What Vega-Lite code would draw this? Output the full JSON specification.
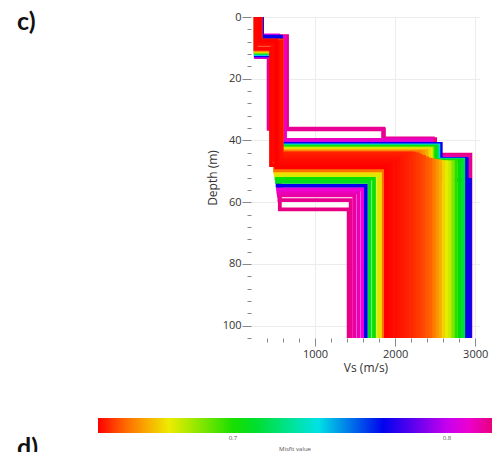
{
  "$schema": "https://vega.github.io/schema/vega-lite/v6.json",
  "width": 229,
  "height": 321,
  "autosize": {"type": "none"},
  "padding": {"left": 251, "top": 17, "right": 22, "bottom": 114},
  "background": "white",
  "title": {
    "text": "c)",
    "subtitle": "d)",
    "anchor": "start",
    "frame": "group",
    "orient": "top",
    "offset": 0,
    "dx": -234,
    "dy": 450,
    "font": "Lato",
    "fontSize": 25,
    "fontWeight": "bold",
    "color": "#111111",
    "subtitleFont": "Lato",
    "subtitleFontSize": 25,
    "subtitleFontWeight": "bold",
    "subtitleColor": "#111111",
    "subtitlePadding": 401
  },
  "config": {
    "view": {"stroke": null},
    "font": "Open Sans"
  },
  "data": {
    "values": [
      {"p":"a01","m":0.821,"d":0,"v":335},{"p":"a01","m":0.821,"d":6.2,"v":650},{"p":"a01","m":0.821,"d":36.4,"v":1860},{"p":"a01","m":0.821,"d":39.6,"v":2500},{"p":"a01","m":0.821,"d":44.6,"v":2940},{"p":"a01","m":0.821,"d":104,"v":2940},
      {"p":"a02","m":0.8205,"d":0,"v":330},{"p":"a02","m":0.8205,"d":6.6,"v":560},{"p":"a02","m":0.8205,"d":62.3,"v":1420},{"p":"a02","m":0.8205,"d":104,"v":1420},
      {"p":"a03","m":0.819,"d":0,"v":325},{"p":"a03","m":0.819,"d":7,"v":555},{"p":"a03","m":0.819,"d":59.3,"v":1445},{"p":"a03","m":0.819,"d":104,"v":1445},
      {"p":"a04","m":0.818,"d":0,"v":265},{"p":"a04","m":0.818,"d":13,"v":420},{"p":"a04","m":0.818,"d":36.2,"v":1850},{"p":"a04","m":0.818,"d":39.3,"v":2470},{"p":"a04","m":0.818,"d":45,"v":2930},{"p":"a04","m":0.818,"d":104,"v":2930},
      {"p":"a05","m":0.816,"d":0,"v":320},{"p":"a05","m":0.816,"d":6.8,"v":548},{"p":"a05","m":0.816,"d":57.8,"v":1490},{"p":"a05","m":0.816,"d":104,"v":1490},
      {"p":"a06","m":0.813,"d":0,"v":330},{"p":"a06","m":0.813,"d":6.3,"v":542},{"p":"a06","m":0.813,"d":56.8,"v":1540},{"p":"a06","m":0.813,"d":104,"v":1540},
      {"p":"a07","m":0.812,"d":0,"v":330},{"p":"a07","m":0.812,"d":6.5,"v":625},{"p":"a07","m":0.812,"d":39.8,"v":2450},{"p":"a07","m":0.812,"d":45.5,"v":2700},{"p":"a07","m":0.812,"d":104,"v":2700},
      {"p":"a08","m":0.809,"d":0,"v":335},{"p":"a08","m":0.809,"d":6,"v":538},{"p":"a08","m":0.809,"d":55.8,"v":1590},{"p":"a08","m":0.809,"d":104,"v":1590},
      {"p":"a09","m":0.802,"d":0,"v":260},{"p":"a09","m":0.802,"d":12.8,"v":570},{"p":"a09","m":0.802,"d":40.7,"v":2430},{"p":"a09","m":0.802,"d":46,"v":2690},{"p":"a09","m":0.802,"d":104,"v":2690},
      {"p":"a10","m":0.7725,"d":0,"v":335},{"p":"a10","m":0.7725,"d":6.4,"v":572},{"p":"a10","m":0.7725,"d":41.1,"v":2570},{"p":"a10","m":0.7725,"d":52.8,"v":2935},{"p":"a10","m":0.7725,"d":104,"v":2935},
      {"p":"a10b","m":0.772,"d":0,"v":332},{"p":"a10b","m":0.772,"d":6.5,"v":575},{"p":"a10b","m":0.772,"d":41.3,"v":2560},{"p":"a10b","m":0.772,"d":46,"v":2895},{"p":"a10b","m":0.772,"d":104,"v":2895},
      {"p":"a11","m":0.771,"d":0,"v":260},{"p":"a11","m":0.771,"d":12.4,"v":532},{"p":"a11","m":0.771,"d":54.6,"v":1635},{"p":"a11","m":0.771,"d":104,"v":1635},
      {"p":"a12","m":0.742,"d":0,"v":260},{"p":"a12","m":0.742,"d":12,"v":565},{"p":"a12","m":0.742,"d":41.6,"v":2540},{"p":"a12","m":0.742,"d":46.2,"v":2850},{"p":"a12","m":0.742,"d":104,"v":2850},
      {"p":"a13","m":0.712,"d":0,"v":300},{"p":"a13","m":0.712,"d":8.5,"v":560},{"p":"a13","m":0.712,"d":41.9,"v":2520},{"p":"a13","m":0.712,"d":46.4,"v":2850},{"p":"a13","m":0.712,"d":104,"v":2850},
      {"p":"a14","m":0.708,"d":0,"v":260},{"p":"a14","m":0.708,"d":11.6,"v":525},{"p":"a14","m":0.708,"d":53.4,"v":1682},{"p":"a14","m":0.708,"d":104,"v":1682},
      {"p":"a15","m":0.705,"d":0,"v":300},{"p":"a15","m":0.705,"d":8.3,"v":560},{"p":"a15","m":0.705,"d":42.1,"v":2500},{"p":"a15","m":0.705,"d":46.6,"v":2805},{"p":"a15","m":0.705,"d":104,"v":2805},
      {"p":"a16","m":0.702,"d":0,"v":300},{"p":"a16","m":0.702,"d":8.6,"v":518},{"p":"a16","m":0.702,"d":52.3,"v":1736},{"p":"a16","m":0.702,"d":104,"v":1736},
      {"p":"a17","m":0.698,"d":0,"v":305},{"p":"a17","m":0.698,"d":8.2,"v":556},{"p":"a17","m":0.698,"d":42.3,"v":2480},{"p":"a17","m":0.698,"d":46.8,"v":2760},{"p":"a17","m":0.698,"d":104,"v":2760},
      {"p":"a18","m":0.686,"d":0,"v":300},{"p":"a18","m":0.686,"d":8.4,"v":552},{"p":"a18","m":0.686,"d":42.6,"v":2460},{"p":"a18","m":0.686,"d":47,"v":2720},{"p":"a18","m":0.686,"d":104,"v":2720},
      {"p":"a18b","m":0.676,"d":0,"v":298},{"p":"a18b","m":0.676,"d":8.3,"v":550},{"p":"a18b","m":0.676,"d":42.8,"v":2450},{"p":"a18b","m":0.676,"d":47.2,"v":2680},{"p":"a18b","m":0.676,"d":104,"v":2680},
      {"p":"a19","m":0.674,"d":0,"v":258},{"p":"a19","m":0.674,"d":11.2,"v":510},{"p":"a19","m":0.674,"d":51.2,"v":1788},{"p":"a19","m":0.674,"d":104,"v":1788},
      {"p":"a20","m":0.672,"d":0,"v":300},{"p":"a20","m":0.672,"d":8,"v":548},{"p":"a20","m":0.672,"d":42.9,"v":2440},{"p":"a20","m":0.672,"d":47.1,"v":2640},{"p":"a20","m":0.672,"d":104,"v":2640},
      {"p":"a21","m":0.668,"d":0,"v":300},{"p":"a21","m":0.668,"d":8.8,"v":505},{"p":"a21","m":0.668,"d":50.5,"v":1825},{"p":"a21","m":0.668,"d":104,"v":1825},
      {"p":"a22","m":0.666,"d":0,"v":305},{"p":"a22","m":0.666,"d":8.1,"v":545},{"p":"a22","m":0.666,"d":43.2,"v":2420},{"p":"a22","m":0.666,"d":47,"v":2600},{"p":"a22","m":0.666,"d":104,"v":2600},
      {"p":"a23","m":0.66,"d":0,"v":300},{"p":"a23","m":0.66,"d":8.3,"v":540},{"p":"a23","m":0.66,"d":43.5,"v":2390},{"p":"a23","m":0.66,"d":46.8,"v":2560},{"p":"a23","m":0.66,"d":104,"v":2560},
      {"p":"a24","m":0.656,"d":0,"v":258},{"p":"a24","m":0.656,"d":10.8,"v":535},{"p":"a24","m":0.656,"d":43.7,"v":2350},{"p":"a24","m":0.656,"d":46.6,"v":2520},{"p":"a24","m":0.656,"d":104,"v":2520},
      {"p":"a25","m":0.652,"d":0,"v":295},{"p":"a25","m":0.652,"d":8,"v":530},{"p":"a25","m":0.652,"d":43.9,"v":2300},{"p":"a25","m":0.652,"d":46.4,"v":2480},{"p":"a25","m":0.652,"d":104,"v":2480},
      {"p":"a26","m":0.651,"d":0,"v":300},{"p":"a26","m":0.651,"d":8.2,"v":500},{"p":"a26","m":0.651,"d":49.7,"v":1858},{"p":"a26","m":0.651,"d":104,"v":1858},
      {"p":"a27","m":0.649,"d":0,"v":312},{"p":"a27","m":0.649,"d":8.1,"v":475},{"p":"a27","m":0.649,"d":46.2,"v":2440},{"p":"a27","m":0.649,"d":104,"v":2440},
      {"p":"a27b","m":0.648,"d":0,"v":310},{"p":"a27b","m":0.648,"d":8,"v":470},{"p":"a27b","m":0.648,"d":45.8,"v":2400},{"p":"a27b","m":0.648,"d":104,"v":2400},
      {"p":"a28","m":0.646,"d":0,"v":320},{"p":"a28","m":0.646,"d":7.8,"v":570},{"p":"a28","m":0.646,"d":45.3,"v":2360},{"p":"a28","m":0.646,"d":104,"v":2360},
      {"p":"a29","m":0.645,"d":0,"v":290},{"p":"a29","m":0.645,"d":8.4,"v":480},{"p":"a29","m":0.645,"d":44.9,"v":2320},{"p":"a29","m":0.645,"d":104,"v":2320},
      {"p":"a30","m":0.644,"d":0,"v":315},{"p":"a30","m":0.644,"d":7.6,"v":585},{"p":"a30","m":0.644,"d":44.5,"v":2280},{"p":"a30","m":0.644,"d":104,"v":2280},
      {"p":"a31","m":0.643,"d":0,"v":280},{"p":"a31","m":0.643,"d":8.6,"v":465},{"p":"a31","m":0.643,"d":44.3,"v":2240},{"p":"a31","m":0.643,"d":104,"v":2240},
      {"p":"a32","m":0.642,"d":0,"v":305},{"p":"a32","m":0.642,"d":8.2,"v":550},{"p":"a32","m":0.642,"d":44.2,"v":2200},{"p":"a32","m":0.642,"d":104,"v":2200},
      {"p":"a33","m":0.641,"d":0,"v":270},{"p":"a33","m":0.641,"d":8.8,"v":490},{"p":"a33","m":0.641,"d":44.4,"v":2160},{"p":"a33","m":0.641,"d":104,"v":2160},
      {"p":"a34","m":0.6405,"d":0,"v":300},{"p":"a34","m":0.6405,"d":7.9,"v":520},{"p":"a34","m":0.6405,"d":44.8,"v":2120},{"p":"a34","m":0.6405,"d":104,"v":2120},
      {"p":"a35","m":0.64,"d":0,"v":285},{"p":"a35","m":0.64,"d":9,"v":505},{"p":"a35","m":0.64,"d":45.4,"v":2080},{"p":"a35","m":0.64,"d":104,"v":2080},
      {"p":"a36","m":0.639,"d":0,"v":318},{"p":"a36","m":0.639,"d":8.1,"v":578},{"p":"a36","m":0.639,"d":46,"v":2040},{"p":"a36","m":0.639,"d":104,"v":2040},
      {"p":"a37","m":0.6385,"d":0,"v":265},{"p":"a37","m":0.6385,"d":8.5,"v":495},{"p":"a37","m":0.6385,"d":46.6,"v":2000},{"p":"a37","m":0.6385,"d":104,"v":2000},
      {"p":"a38","m":0.638,"d":0,"v":295},{"p":"a38","m":0.638,"d":8.3,"v":535},{"p":"a38","m":0.638,"d":47.3,"v":1960},{"p":"a38","m":0.638,"d":104,"v":1960},
      {"p":"a39","m":0.6375,"d":0,"v":255},{"p":"a39","m":0.6375,"d":10.3,"v":450},{"p":"a39","m":0.6375,"d":48,"v":1920},{"p":"a39","m":0.6375,"d":104,"v":1920},
      {"p":"a40","m":0.637,"d":0,"v":310},{"p":"a40","m":0.637,"d":7.7,"v":515},{"p":"a40","m":0.637,"d":48.7,"v":1885},{"p":"a40","m":0.637,"d":104,"v":1885}
    ]
  },
  "mark": {"type": "line", "interpolate": "step-before", "strokeWidth": 3.8, "strokeCap": "butt", "strokeJoin": "miter", "clip": true},
  "encoding": {
    "x": {
      "field": "v", "type": "quantitative",
      "scale": {"domain": [200, 3060], "nice": false, "zero": false},
      "axis": {
        "title": "Vs (m/s)",
        "values": [400, 600, 800, 1000, 1200, 1400, 1600, 1800, 2000, 2200, 2400, 2600, 2800, 3000],
        "labelExpr": "datum.value % 1000 === 0 ? datum.value : ''",
        "labelOverlap": false,
        "domain": false,
        "tickColor": "#888888",
        "tickSize": {"condition": {"test": "datum.value % 1000 === 0", "value": 8}, "value": 4},
        "grid": true,
        "gridColor": "#ececec",
        "gridOpacity": {"condition": {"test": "datum.value % 1000 === 0", "value": 1}, "value": 0},
        "labelFont": "Open Sans", "labelFontSize": 11, "labelColor": "#333333", "labelPadding": 2,
        "titleFont": "Open Sans", "titleFontSize": 12, "titleFontWeight": "normal", "titleColor": "#333333", "titlePadding": 3
      }
    },
    "y": {
      "field": "d", "type": "quantitative",
      "scale": {"domain": [0, 104], "reverse": true, "nice": false, "zero": false},
      "axis": {
        "title": "Depth (m)",
        "values": [0, 4, 8, 12, 16, 20, 24, 28, 32, 36, 40, 44, 48, 52, 56, 60, 64, 68, 72, 76, 80, 84, 88, 92, 96, 100, 104],
        "labelExpr": "datum.value % 20 === 0 ? datum.value : ''",
        "labelOverlap": false,
        "domain": false,
        "tickColor": "#888888",
        "tickSize": {"condition": {"test": "datum.value % 20 === 0", "value": 9}, "value": 4},
        "grid": true,
        "gridColor": "#ececec",
        "gridOpacity": {"condition": {"test": "datum.value % 20 === 0", "value": 1}, "value": 0},
        "labelFont": "Open Sans", "labelFontSize": 11, "labelColor": "#333333", "labelPadding": 1,
        "titleFont": "Open Sans", "titleFontSize": 12, "titleFontWeight": "normal", "titleColor": "#333333", "titlePadding": 3
      }
    },
    "color": {
      "field": "m", "type": "quantitative",
      "scale": {
        "domain": [0.637, 0.652, 0.6705, 0.7035, 0.7395, 0.7705, 0.806, 0.821],
        "range": ["#ff0000", "#ff7a00", "#eeee00", "#00dd00", "#00e5e5", "#0000ee", "#ee00ee", "#e8007e"],
        "interpolate": "rgb"
      },
      "legend": {
        "orient": "none",
        "direction": "horizontal",
        "legendX": -153,
        "legendY": 401,
        "gradientLength": 394,
        "gradientThickness": 15,
        "gradientStrokeWidth": 0,
        "values": [0.7, 0.8],
        "format": ".1f",
        "title": "Misfit value",
        "titleOrient": "bottom",
        "titleAnchor": "middle",
        "titleFont": "Open Sans",
        "titleFontSize": 6,
        "titleFontWeight": "normal",
        "titleColor": "#555555",
        "labelFont": "Open Sans",
        "labelFontSize": 6,
        "labelColor": "#555555"
      }
    },
    "detail": {"field": "p", "type": "nominal"},
    "order": {"field": "d", "type": "quantitative"}
  }
}
